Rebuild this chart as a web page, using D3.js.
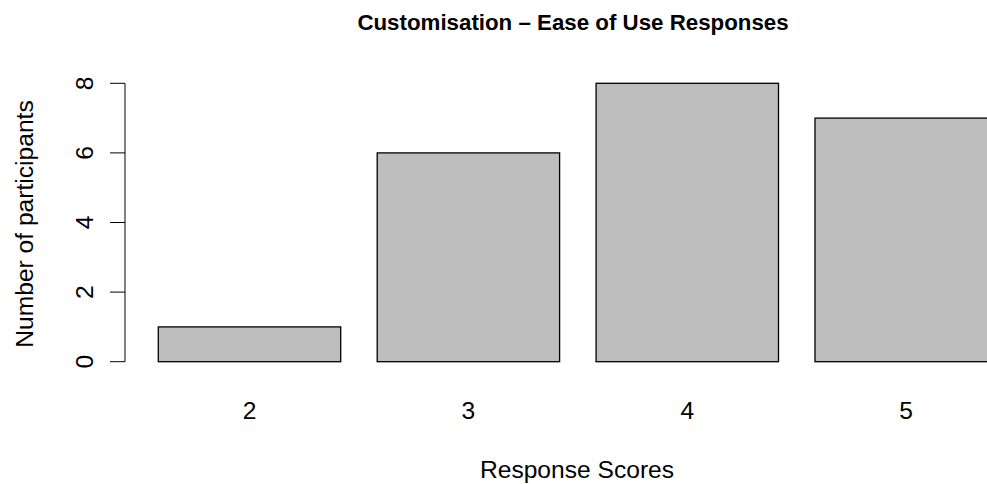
<!DOCTYPE html>
<html lang="en">
<head>
<meta charset="UTF-8">
<title>Customisation - Ease of Use Responses</title>
<script src="https://d3js.org/d3.v7.min.js"></script>
<style>
    body { margin: 0; background: #fff; }
    svg { display: block; font-family: "Liberation Sans", Arial, sans-serif; }
</style>
</head>
<body>
<svg width="987" height="484"></svg>
<script>
    const scores = ["2", "3", "4", "5"];
    const counts = [1, 6, 8, 7];
    const yTicks = [0, 2, 4, 6, 8];

    const svg = d3.select("svg");

    const x = d3.scaleBand()
        .domain(scores)
        .range([140.05, 1015.65])
        .paddingInner(1 / 6)
        .paddingOuter(1 / 12);

    const y = d3.scaleLinear()
        .domain([0, 8])
        .range([361.7, 83.3]);

    // bars
    svg.append("g")
        .selectAll("rect")
        .data(counts)
        .join("rect")
        .attr("x", (d, i) => x(scores[i]))
        .attr("y", d => y(d))
        .attr("width", x.bandwidth())
        .attr("height", d => y(0) - y(d))
        .attr("fill", "#bebebe")
        .attr("stroke", "#000")
        .attr("stroke-width", 1.3);

    // y axis, R style: line, outward ticks, rotated labels
    const yAxis = svg.append("g").attr("transform", "translate(125,0)");
    yAxis.append("line")
        .attr("x1", 0).attr("x2", 0)
        .attr("y1", y(0)).attr("y2", y(8))
        .attr("stroke", "#000");
    yAxis.selectAll(".tick")
        .data(yTicks)
        .join("line")
        .attr("class", "tick")
        .attr("x1", -15).attr("x2", 0)
        .attr("y1", d => y(d)).attr("y2", d => y(d))
        .attr("stroke", "#000");
    yAxis.selectAll("text")
        .data(yTicks)
        .join("text")
        .attr("transform", d => `translate(-32,${y(d)}) rotate(-90)`)
        .attr("text-anchor", "middle")
        .attr("font-size", 24.6)
        .text(d => d);

    // x category labels (no axis line)
    svg.append("g")
        .selectAll("text")
        .data(scores)
        .join("text")
        .attr("x", d => x(d) + x.bandwidth() / 2)
        .attr("y", 419)
        .attr("text-anchor", "middle")
        .attr("font-size", 24.6)
        .text(d => d);

    svg.append("text")
        .attr("x", 577)
        .attr("y", 478)
        .attr("text-anchor", "middle")
        .attr("font-size", 24.6)
        .text("Response Scores");

    svg.append("text")
        .attr("transform", "translate(33,224) rotate(-90)")
        .attr("text-anchor", "middle")
        .attr("font-size", 24.6)
        .text("Number of participants");

    svg.append("text")
        .attr("x", 573)
        .attr("y", 30)
        .attr("text-anchor", "middle")
        .attr("font-size", 22.3)
        .attr("font-weight", "bold")
        .text("Customisation \u2013 Ease of Use Responses");
</script>
</body>
</html>
